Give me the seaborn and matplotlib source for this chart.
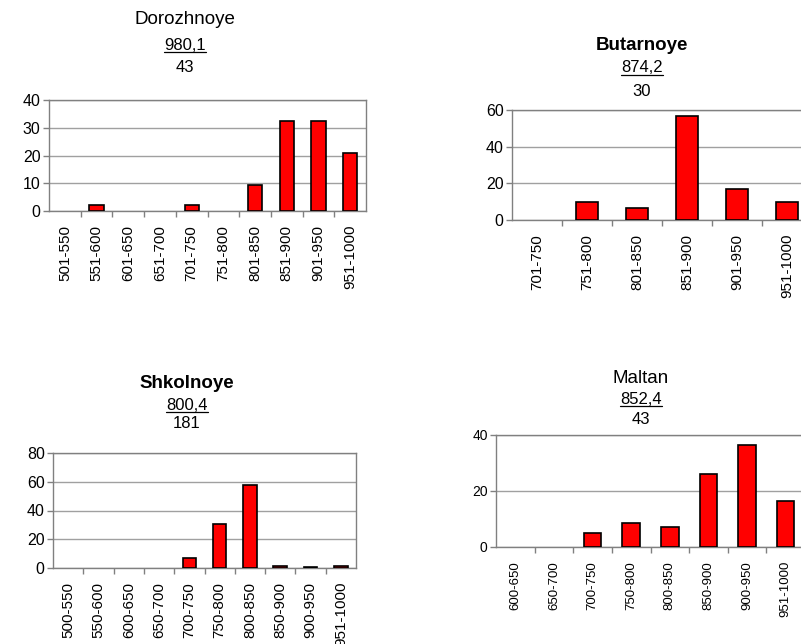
import numpy as np
import pandas as pd
import matplotlib
matplotlib.use("Agg")
import matplotlib.pyplot as plt
from matplotlib.lines import Line2D
import seaborn as sns

# ---- data: share of samples (%) per class interval ----
doroz_bins = ["501-550", "551-600", "601-650", "651-700", "701-750",
              "751-800", "801-850", "851-900", "901-950", "951-1000"]
doroz_vals = [0, 2.3, 0, 0, 2.3, 0, 9.3, 32.6, 32.6, 20.9]

butar_bins = ["701-750", "751-800", "801-850", "851-900", "901-950", "951-1000"]
butar_vals = [0, 10.0, 6.7, 56.7, 16.7, 10.0]

shkol_bins = ["500-550", "550-600", "600-650", "650-700", "700-750",
              "750-800", "800-850", "850-900", "900-950", "951-1000"]
shkol_vals = [0, 0, 0, 0, 7.0, 30.9, 58.0, 1.7, 0.6, 1.7]

maltan_bins = ["600-650", "650-700", "700-750", "750-800", "800-850",
               "850-900", "900-950", "951-1000"]
maltan_vals = [0, 0, 4.9, 8.4, 7.0, 26.2, 36.6, 16.6]

titles = ["Dorozhnoye", "Butarnoye", "Shkolnoye", "Maltan"]
means = ["980,1", "874,2", "800,4", "852,4"]
counts = ["43", "30", "181", "43"]

W, H = 801, 644
sns.set_style("white")
plt.rcParams["font.family"] = ["Liberation Sans", "DejaVu Sans"]
plt.rcParams["text.color"] = "black"
plt.rcParams["xtick.color"] = "black"
plt.rcParams["ytick.color"] = "black"

fig = plt.figure(figsize=(W / 100, H / 100), dpi=100)
fig.patch.set_facecolor("white")


def fx(x):
    return x / W


def fy(y):
    return 1 - y / H


def panel(bins, vals, box, ymax, ystep, tick_fs, xlab_fs):
    x0, y0, x1, y1 = box
    ax = fig.add_axes([fx(x0), fy(y1), (x1 - x0) / W, (y1 - y0) / H])
    df = pd.DataFrame({"bin": bins, "pct": vals})
    sns.barplot(data=df, x="bin", y="pct", order=bins, color="#ff0000",
                saturation=1, edgecolor="black", linewidth=1.2, width=0.45,
                ax=ax, zorder=3)
    # empty classes leave no mark
    for p in ax.patches:
        if p.get_height() == 0:
            p.set_visible(False)
    n = len(bins)
    ax.set_xlim(-0.5, n - 0.5)
    ax.set_ylim(0, ymax)
    ax.set_yticks(np.arange(0, ymax + 0.1, ystep))
    ax.yaxis.grid(True, color="#a0a0a0", linewidth=1, zorder=0)
    ax.set_axisbelow(True)
    ax.set_xlabel("")
    ax.set_ylabel("")
    ax.set_xticks(range(n))
    ax.set_xticklabels(bins, rotation=90, fontsize=xlab_fs, color="black")
    ax.set_xticks(np.arange(0.5, n - 0.5, 1), minor=True)
    ax.tick_params(axis="x", which="major", length=0, pad=10)
    ax.tick_params(axis="x", which="minor", length=4, color="#808080",
                   width=1, bottom=True)
    ax.tick_params(axis="y", length=4, color="#808080", width=1,
                   labelsize=tick_fs, labelcolor="black", pad=2, left=True)
    for s in ax.spines.values():
        s.set_visible(True)
        s.set_color("#808080")
        s.set_linewidth(1)
    return ax


panel(doroz_bins, doroz_vals, (49, 100, 366, 211), 40, 10, 11.5, 11)
panel(butar_bins, butar_vals, (512, 110, 812, 220), 60, 20, 11.5, 11)
panel(shkol_bins, shkol_vals, (53, 453, 356, 568), 80, 20, 11.5, 11)
panel(maltan_bins, maltan_vals, (496, 435, 805, 547), 40, 20, 10, 9.5)

# headers: name, underlined mean, sample count
headers = [
    (185, 20, 45, 52, 68, "normal"),
    (642, 45, 68, 75, 91, "bold"),
    (187, 383, 405, 412, 423, "bold"),
    (641, 378, 400, 406, 419, "normal"),
]
mean_texts = []
for (cx, ty, my, uy, cy, wt), t, m, c in zip(headers, titles, means, counts):
    fig.text(fx(cx), fy(ty), t, ha="center", va="center", fontsize=13.5,
             fontweight=wt)
    mt = fig.text(fx(cx), fy(my), m, ha="center", va="center", fontsize=12)
    fig.text(fx(cx), fy(cy), c, ha="center", va="center", fontsize=12)
    mean_texts.append((mt, uy))

fig.canvas.draw()
renderer = fig.canvas.get_renderer()
for mt, uy in mean_texts:
    bb = mt.get_window_extent(renderer)
    fig.add_artist(Line2D([bb.x0 / W, bb.x1 / W], [fy(uy), fy(uy)],
                          transform=fig.transFigure, color="black",
                          linewidth=0.9))

fig.savefig("out.png", dpi=100, facecolor="white")
